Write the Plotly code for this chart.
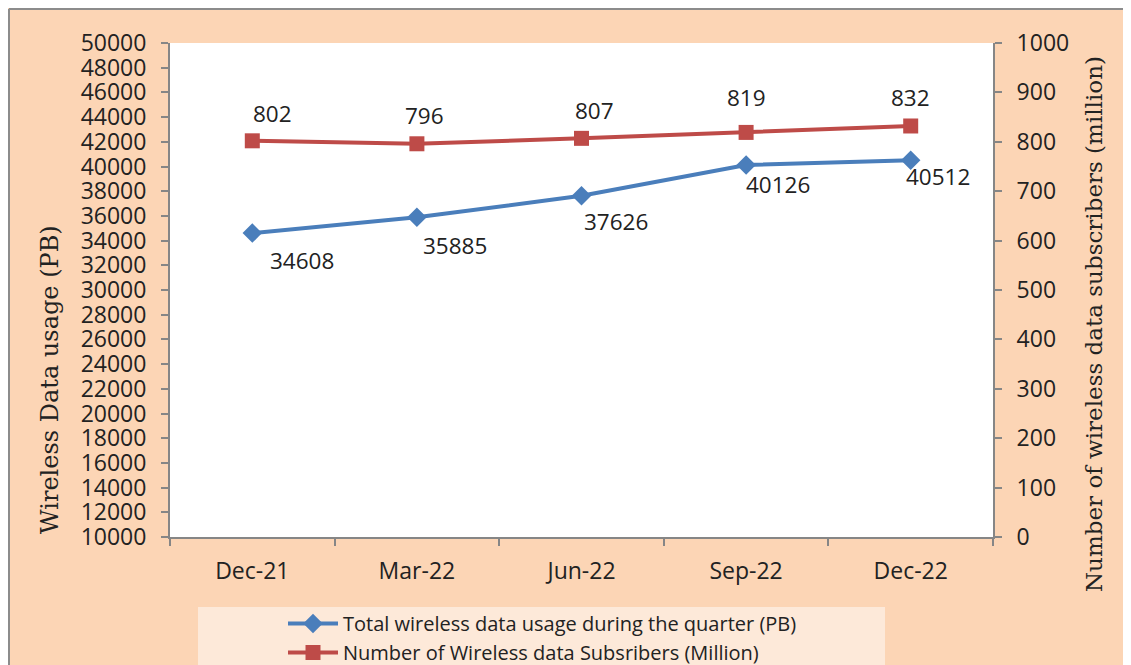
import plotly.graph_objects as go

categories = ["Dec-21", "Mar-22", "Jun-22", "Sep-22", "Dec-22"]
usage_pb = [34608, 35885, 37626, 40126, 40512]
subscribers_mn = [802, 796, 807, 819, 832]
usage_name = "Total wireless data usage during the quarter (PB)"
subs_name = "Number of Wireless data Subsribers (Million)"

# label offsets (pixels) - styling only
usage_lbl_dx = [50, 38, 34, 32, 27]
usage_lbl_dy = [-27, -28, -26, -20, -16]
subs_lbl_dx = [20, 8, 13, 0, 0]
subs_lbl_dy = [27, 28, 28, 35, 28]

OFF = 8  # page body margin
W, H = 1131 - OFF, 665 - OFF
L, R, T, B = 170 - OFF, 993 - OFF, 43 - OFF, 537 - OFF
pw, ph = R - L, B - T


def px(x):
    return (x - OFF - L) / pw


def py(y):
    return (B - (y - OFF)) / ph


BLUE = "#4A7EBB"
RED = "#BE4B48"
AX = "#868686"
PEACH = "#FCD5B5"
LEG = "#FDE9D9"
TICKFONT = dict(family="Open Sans", size=23, color="#222222")
LBLFONT = dict(family="Open Sans", size=22.5, color="#222222")
TITLEFONT_L = dict(family="DejaVu Serif", size=24, color="#222222")
TITLEFONT_R = dict(family="DejaVu Serif", size=23, color="#222222")

fig = go.Figure()
fig.add_trace(go.Scatter(
    x=categories, y=usage_pb, name=usage_name, mode="lines+markers",
    line=dict(color=BLUE, width=4),
    marker=dict(symbol="diamond", size=15, color=BLUE),
    yaxis="y",
))
fig.add_trace(go.Scatter(
    x=categories, y=subscribers_mn, name=subs_name, mode="lines+markers",
    line=dict(color=RED, width=4),
    marker=dict(symbol="square", size=15, color=RED),
    yaxis="y2",
))

annotations = []
for i, c in enumerate(categories):
    annotations.append(dict(
        x=c, y=usage_pb[i], xref="x", yref="y", text=str(usage_pb[i]),
        showarrow=False, xshift=usage_lbl_dx[i], yshift=usage_lbl_dy[i],
        font=LBLFONT,
    ))
    annotations.append(dict(
        x=c, y=subscribers_mn[i], xref="x", yref="y2", text=str(subscribers_mn[i]),
        showarrow=False, xshift=subs_lbl_dx[i], yshift=subs_lbl_dy[i],
        font=LBLFONT,
    ))

annotations.append(dict(
    x=px(50), y=py(380), xref="paper", yref="paper", text="Wireless Data usage (PB)",
    textangle=-90, showarrow=False, font=TITLEFONT_L, xanchor="center", yanchor="middle",
))
annotations.append(dict(
    x=px(1094), y=py(324), xref="paper", yref="paper",
    text="Number of wireless data subscribers (million)",
    textangle=-90, showarrow=False, font=TITLEFONT_R, xanchor="center", yanchor="middle",
))

shapes = [
    dict(type="line", xref="paper", yref="paper", x0=px(9), x1=px(1145), y0=py(9), y1=py(9),
         line=dict(color="#8C8C8C", width=2), layer="below"),
    dict(type="line", xref="paper", yref="paper", x0=px(9), x1=px(9), y0=py(9), y1=py(680),
         line=dict(color="#8C8C8C", width=2), layer="below"),
    dict(type="rect", xref="paper", yref="paper", x0=px(198), x1=px(885), y0=py(680), y1=py(607),
         fillcolor=LEG, line=dict(width=0), layer="below"),
]

axis_common = dict(
    showgrid=False, zeroline=False, showline=True, linecolor=AX, linewidth=2,
    ticks="outside", ticklen=7, tickcolor=AX, tickwidth=2, tickfont=TICKFONT,
    automargin=False,
)

fig.update_layout(
    width=W, height=H,
    margin=dict(l=L, r=W - R, t=T, b=H - B, autoexpand=False),
    paper_bgcolor=PEACH,
    plot_bgcolor="white",
    showlegend=True,
    legend=dict(
        x=px(283), y=py(604), xanchor="left", yanchor="top",
        bgcolor="rgba(0,0,0,0)", font=dict(family="Open Sans", size=20, color="#222222"),
        tracegroupgap=0, itemwidth=50,
    ),
    xaxis=dict(type="category", range=[-0.5, 4.5], tickson="boundaries",
               ticklabelstandoff=12, **axis_common),
    yaxis=dict(range=[10000, 50000], dtick=2000, tickformat="d",
               ticklabelstandoff=10, **axis_common),
    yaxis2=dict(range=[0, 1000], dtick=100, tickformat="d", overlaying="y", side="right",
                ticklabelstandoff=10, **axis_common),
    annotations=annotations,
    shapes=shapes,
)

fig.write_html("out.html")
